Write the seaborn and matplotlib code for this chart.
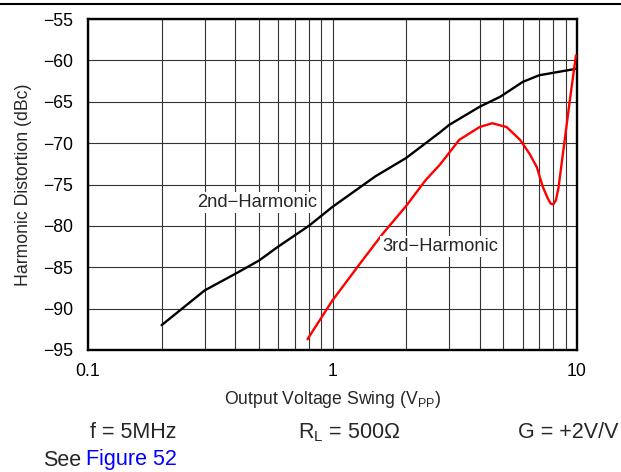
import numpy as np
import pandas as pd
import matplotlib
matplotlib.use("Agg")
import matplotlib.pyplot as plt
import seaborn as sns
from matplotlib.lines import Line2D
from matplotlib.ticker import LogLocator, FixedLocator, NullFormatter

# data
h2_x = [0.2, 0.3, 0.4, 0.5, 0.6, 0.8, 1.0, 1.5, 2.0, 2.75, 3.0, 4.0, 4.85, 6.0, 7.0, 8.0, 10.0]
h2_y = [-92, -87.8, -85.8, -84.2, -82.5, -80, -77.7, -74, -71.8, -68.7, -67.8, -65.6, -64.4, -62.6, -61.8, -61.5, -61]

h3_x = [0.79, 0.9, 1.0, 1.3, 1.6, 2.0, 2.4, 2.75, 3.3, 4.0, 4.5, 5.15, 5.85, 6.4, 6.85, 7.25, 7.6, 7.8, 8.0,
        8.2, 8.4, 8.8, 9.35, 9.9]
h3_y = [-93.7, -91.1, -89, -84.5, -81, -77.6, -74.5, -72.6, -69.6, -68.05, -67.6, -68.05, -69.6, -71.3, -72.9,
        -75.3, -76.7, -77.3, -77.4, -76.9, -75.4, -70.8, -64.8, -59.4]

y_ticks = [-55, -60, -65, -70, -75, -80, -85, -90, -95]
x_ticks = [0.1, 1, 10]
x_ticklabels = ["0.1", "1", "10"]

sns.set_style("white")
plt.rcParams['font.family'] = ['Liberation Sans', 'DejaVu Sans']

fig = plt.figure(figsize=(6.21, 4.72), dpi=100)
W, H = 621, 472
ax = fig.add_axes([88 / W, 1 - 350 / H, (577 - 88) / W, (350 - 19) / H])

df2 = pd.DataFrame({"x": h2_x, "y": h2_y})
df3 = pd.DataFrame({"x": h3_x, "y": h3_y})
sns.lineplot(data=df2, x="x", y="y", ax=ax, color="black", lw=1.7, zorder=3)
sns.lineplot(data=df3, x="x", y="y", ax=ax, color="#ff0000", lw=1.7, zorder=3)

ax.set_xscale("log")
ax.set_xlim(0.1, 10)
ax.set_ylim(-95, -55)
ax.xaxis.set_major_locator(FixedLocator(x_ticks))
ax.set_xticklabels(x_ticklabels)
ax.xaxis.set_minor_locator(LogLocator(base=10, subs=np.arange(2, 10)))
ax.xaxis.set_minor_formatter(NullFormatter())
ax.set_yticks(y_ticks)
ax.set_yticklabels([str(v).replace("-", "\u2212") for v in y_ticks])
ax.tick_params(axis="both", which="both", length=0, labelsize=12.7, colors="black")
ax.tick_params(axis="x", pad=9)
ax.tick_params(axis="y", pad=10.5)

ax.grid(True, which="both", axis="x", color="#333333", lw=0.8)
ax.grid(True, which="major", axis="y", color="#333333", lw=0.8)
ax.set_axisbelow(True)
for s in ax.spines.values():
    s.set_color("black")
    s.set_linewidth(1.7)

ax.set_xlabel("Output Voltage Swing (V$_{\\mathregular{PP}}$)", fontsize=12.7, labelpad=7)
ax.set_ylabel("Harmonic Distortion (dBc)", fontsize=12.7, labelpad=8)

box = dict(facecolor="white", edgecolor="none", pad=1.5)
ax.text(0.49, -77.2, "2nd\u2212Harmonic", fontsize=13.2, ha="center", va="center", bbox=box, zorder=4)
ax.text(2.75, -82.5, "3rd\u2212Harmonic", fontsize=13.2, ha="center", va="center", bbox=box, zorder=4)

# top rule
fig.add_artist(Line2D([0, 1], [1 - 3.5 / H, 1 - 3.5 / H], color="black", lw=1.5))

# conditions below the chart
fig.text(90 / W, 1 - 433 / H, "f = 5MHz", fontsize=15.5, ha="left", va="center")
fig.text(298 / W, 1 - 433 / H, "R$_{\\mathregular{L}}$ = 500\u03a9", fontsize=15.5, ha="left", va="center")
fig.text(518 / W, 1 - 433 / H, "G = +2V/V", fontsize=15.5, ha="left", va="center")
fig.text(43 / W, 1 - 460 / H, "See", fontsize=15.5, ha="left", va="center")
fig.text(86 / W, 1 - 460 / H, "Figure 52", fontsize=15.5, ha="left", va="center", color="#0000ff")

fig.savefig("out.png", dpi=100)
